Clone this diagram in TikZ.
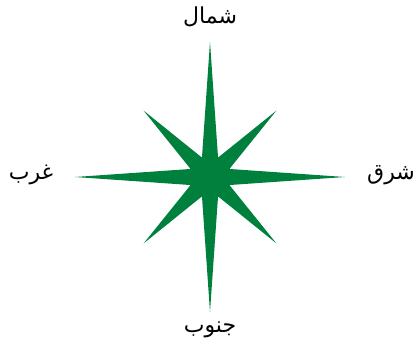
\documentclass[tikz,border=0pt]{standalone}
\usepackage{fontspec}
\newfontfamily\arabicfont[Script=Arabic]{DejaVu Sans}
\TeXXeTstate=1
\definecolor{compassgreen}{HTML}{00803D}

\begin{document}
\begin{tikzpicture}[x=1pt, y=-1pt,
  dirlabel/.style={text=black, font=\arabicfont\fontsize{22}{26}\selectfont, inner sep=0pt}]

% Canvas
\useasboundingbox (0,0) rectangle (418,348);

% Compass star: four long arms, four short diagonals
\begin{scope}[shift={(210,177)}]
\fill[compassgreen] (0:135)
  \foreach \a in {0,90,180,270} {
    -- (\a+22.5:21) -- (\a+45:94) -- (\a+67.5:21) -- (\a+90:135)
  } -- cycle;
\end{scope}

% Direction labels
\node[dirlabel] (north) at (210,17)  {\beginR شمال\endR};
\node[dirlabel] (east)  at (391,175) {\beginR شرق\endR};
\node[dirlabel] (west)  at (31,175)  {\beginR غرب\endR};
\node[dirlabel] (south) at (210,330) {\beginR جنوب\endR};

\end{tikzpicture}
\end{document}
